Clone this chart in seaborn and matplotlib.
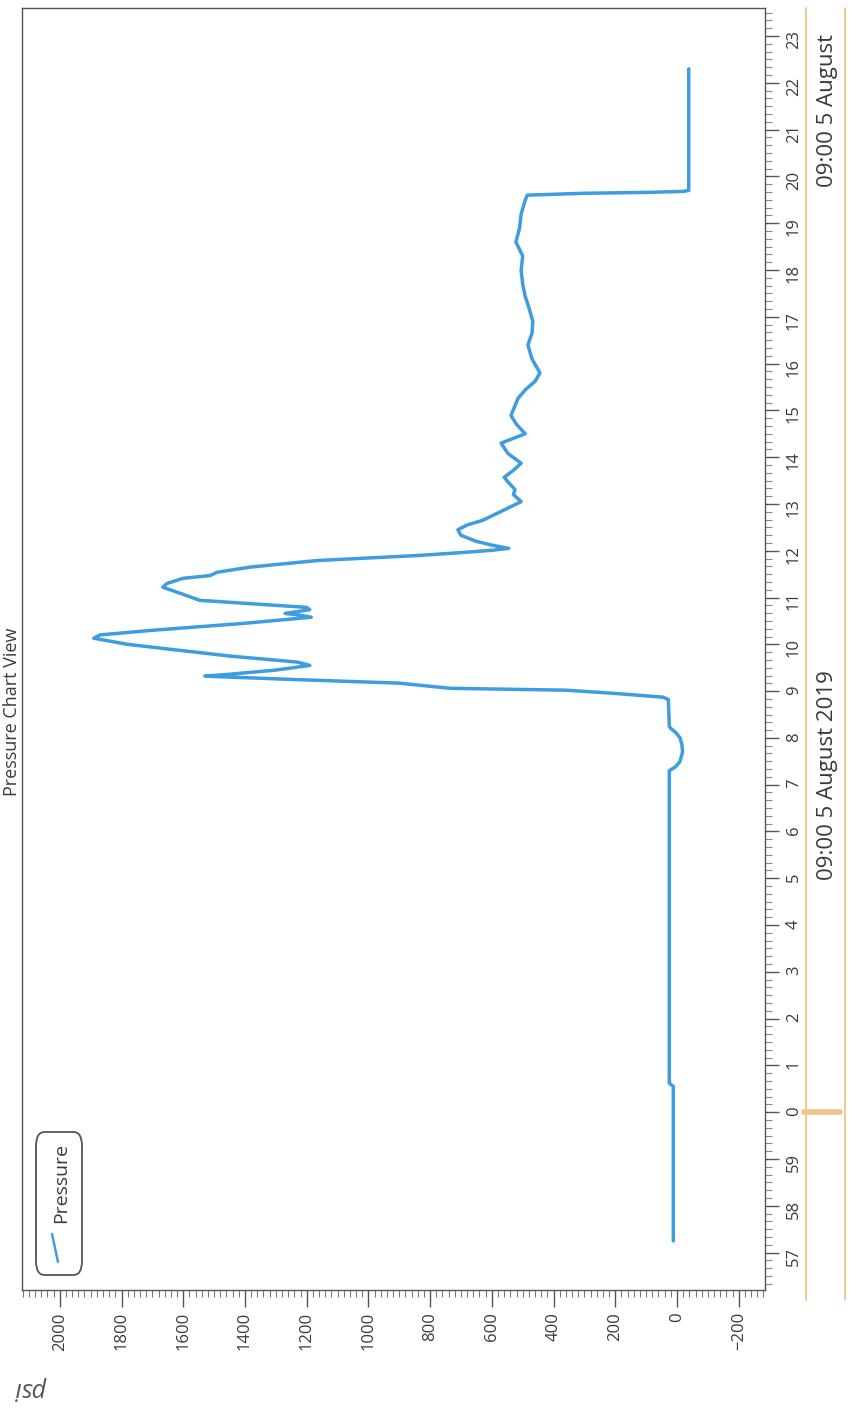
import matplotlib
matplotlib.use("Agg")
import matplotlib.pyplot as plt
import seaborn as sns
import pandas as pd
from matplotlib.ticker import MultipleLocator, FuncFormatter
from matplotlib.patches import FancyBboxPatch
from matplotlib.lines import Line2D
from matplotlib.transforms import blended_transform_factory

# time in minutes after 09:00 (negative = before 09:00)
minutes = [-2.75, 0.55, 0.62, 7.3, 7.38, 7.5, 7.7, 7.85, 8.0, 8.12, 8.2, 8.25,
           8.82, 8.87, 8.95, 9.02, 9.06, 9.17, 9.25, 9.32, 9.36, 9.45, 9.55,
           9.62, 9.75, 9.9, 10.0, 10.13, 10.2, 10.3, 10.45, 10.58, 10.63, 10.66,
           10.7, 10.74, 10.79, 10.94, 11.09, 11.22, 11.3, 11.41, 11.47, 11.54,
           11.65, 11.79, 11.9, 11.96, 12.01, 12.05, 12.12, 12.2, 12.33, 12.45,
           12.55, 12.65, 12.84, 13.05, 13.2, 13.31, 13.45, 13.57, 13.72, 13.87,
           14.08, 14.3, 14.5, 14.7, 14.89, 15.1, 15.26, 15.45, 15.62, 15.8,
           16.1, 16.4, 16.65, 16.9, 17.2, 17.44, 17.7, 18.0, 18.3, 18.6, 18.9,
           19.2, 19.49, 19.6, 19.64, 19.66, 19.68, 19.7, 22.3]
pressure = [12, 12, 25, 25, 5, -10, -18, -16, -10, 5, 20, 25,
            28, 45, 200, 360, 735, 900, 1250, 1530, 1450, 1300, 1190,
            1230, 1450, 1650, 1780, 1890, 1870, 1700, 1400, 1185, 1230, 1270,
            1230, 1190, 1200, 1546, 1610, 1666, 1653, 1601, 1513, 1490,
            1384, 1167, 835, 700, 600, 545, 600, 650, 700, 710,
            680, 630, 570, 505, 530, 525, 545, 560, 530, 505,
            548, 570, 492, 520, 538, 525, 515, 490, 460, 444,
            470, 483, 470, 467, 480, 492, 500, 505, 500, 522, 510,
            505, 492, 485, 300, 90, -20, -38, -38]

psi_ticks = list(range(-200, 2001, 200))
minute_ticks = list(range(-3, 24))

W, H = 849, 1415
line_color = "#3d9ddf"
band_color = "#f0c48a"
text_color = "#3a3a3a"

sns.set_theme(style="white")
plt.rcParams["font.family"] = ["Open Sans", "DejaVu Sans"]

df = pd.DataFrame({"minute": minutes, "psi": pressure})

fig = plt.figure(figsize=(W / 100, H / 100), dpi=100)
left = 22
ax = fig.add_axes([left / W, 1 - 1290 / H, (765 - left) / W, (1290 - 8) / H])

sns.lineplot(data=df, x="psi", y="minute", sort=False, estimator=None,
             color=line_color, lw=2.5, ax=ax, legend=False)

# 0 psi sits at x=677 px, 200 psi spans ~61.7 px
ax.set_xlim((677 - left) / 0.3086, (677 - 765) / 0.3086)
ax.set_ylim(-3.8, 23.6)
ax.set_xlabel("")
ax.set_ylabel("")

# pressure axis (bottom)
ax.set_xticks(psi_ticks)
ax.xaxis.set_minor_locator(MultipleLocator(20))
ax.tick_params(axis="x", which="major", direction="out", length=12, width=1,
               color="#555555", labelsize=12, labelcolor=text_color,
               labelrotation=90, pad=4, bottom=True)
ax.tick_params(axis="x", which="minor", direction="out", length=5, width=0.8,
               color="#777777", bottom=True)

# time axis (right)
ax.yaxis.tick_right()
ax.set_yticks(minute_ticks)
ax.yaxis.set_major_formatter(FuncFormatter(lambda v, pos: f"{int(round(v)) % 60}"))
ax.yaxis.set_minor_locator(MultipleLocator(1 / 6))
ax.tick_params(axis="y", which="major", direction="out", length=10, width=1,
               color="#555555", labelsize=12, labelcolor=text_color,
               labelrotation=90, pad=5, right=True, left=False)
ax.tick_params(axis="y", which="minor", direction="out", length=5, width=0.8,
               color="#888888", right=True, left=False)

for s in ax.spines.values():
    s.set_visible(True)
    s.set_color("#555555")
    s.set_linewidth(1)

# title and unit label
fig.text(12 / W, 1 - 712 / H, "Pressure Chart View", rotation=90, fontsize=13,
         ha="center", va="center", color=text_color)
fig.text(32 / W, 1 - 1388 / H, "psi", rotation=180, fontsize=18, style="italic",
         ha="center", va="center", color="#555555")

# legend box drawn rotated like the rest of the page
box = FancyBboxPatch((36 / W, 1 - 1275 / H), 46 / W, 143 / H,
                     boxstyle="round,pad=0,rounding_size=0.01",
                     transform=fig.transFigure, fill=False, ec="#555555", lw=1.3)
fig.patches.append(box)
fig.lines.append(Line2D([52 / W, 58 / W], [1 - 1234 / H, 1 - 1262 / H],
                        transform=fig.transFigure, color=line_color, lw=1.8))
fig.text(61 / W, 1 - 1183 / H, "Pressure", rotation=90, fontsize=14,
         ha="center", va="center", color=text_color)

# date band to the right of the time axis
bt = blended_transform_factory(fig.transFigure, ax.transData)
for xp in (806, 845):
    fig.lines.append(Line2D([xp / W, xp / W], [1 - 1300 / H, 1 - 8 / H],
                            transform=fig.transFigure, color=band_color, lw=1.3))
ax.add_line(Line2D([804 / W, 840 / W], [0, 0], transform=bt, color=band_color,
                   lw=4, clip_on=False))
ax.text(827 / W, 7.2, "09:00 5 August 2019", transform=bt, rotation=90,
        fontsize=16, ha="center", va="center", color=text_color, clip_on=False)
ax.text(828 / W, 21.4, "09:00 5 August", transform=bt, rotation=90,
        fontsize=16, ha="center", va="center", color=text_color, clip_on=False)

fig.savefig("out.png", dpi=100)
